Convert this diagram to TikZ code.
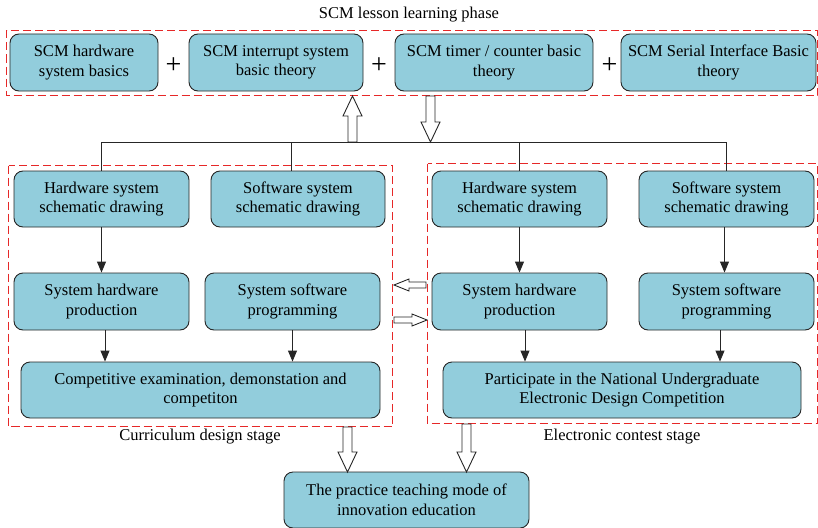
\documentclass[tikz,border=0pt]{standalone}
\usepackage{fontspec}
\setmainfont{Liberation Serif}
\usetikzlibrary{arrows.meta,calc}
\definecolor{boxfill}{HTML}{92CDDC}
\definecolor{dashred}{RGB}{230,40,40}
\newcommand\hollowdown[3]{\draw[hollow] ({#1-4.5},#2) -- ({#1-4.5},{#3-20}) -- ({#1-9.5},{#3-20}) -- (#1,#3) -- ({#1+9.5},{#3-20}) -- ({#1+4.5},{#3-20}) -- ({#1+4.5},#2) -- cycle;}
\newcommand\hollowup[3]{\draw[hollow] ({#1-4.5},#2) -- ({#1-4.5},{#3+20}) -- ({#1-9.5},{#3+20}) -- (#1,#3) -- ({#1+9.5},{#3+20}) -- ({#1+4.5},{#3+20}) -- ({#1+4.5},#2) -- cycle;}
\newcommand\hollowleft[3]{\draw[hollow] (#2,{#1-3}) -- ({#3+15},{#1-3}) -- ({#3+15},{#1-6}) -- (#3,#1) -- ({#3+15},{#1+6}) -- ({#3+15},{#1+3}) -- (#2,{#1+3}) -- cycle;}
\newcommand\hollowright[3]{\draw[hollow] (#2,{#1-3}) -- ({#3-15},{#1-3}) -- ({#3-15},{#1-6}) -- (#3,#1) -- ({#3-15},{#1+6}) -- ({#3-15},{#1+3}) -- (#2,{#1+3}) -- cycle;}
\begin{document}
\begin{tikzpicture}[x=1pt,y=-1pt,
 box/.style={draw=black!85,fill=boxfill,rounded corners=9pt,line width=0.9pt,align=center,font=\fontsize{16.5}{19.5}\selectfont,inner sep=0pt},
 grp/.style={draw=dashred,dash pattern=on 8pt off 4pt,line width=1.2pt},
 link/.style={draw=black!85,line width=0.9pt},
 arr/.style={link,-{Triangle[width=9pt,length=11pt]}},
 hollow/.style={draw=black!85,fill=white,line width=0.9pt},
 lbl/.style={font=\fontsize{16.5}{19.5}\selectfont,inner sep=0pt},
 plus/.style={font=\fontsize{28}{30}\selectfont,inner sep=0pt}
]
\useasboundingbox (0,0) rectangle (818,527);

% dashed groups
\draw[grp] (6.5,30.5) rectangle (817.5,95.5);
\draw[grp] (8.5,165.5) rectangle (392.5,426.5);
\draw[grp] (427.5,163.5) rectangle (817.5,423.5);

% top group
\node[lbl] (title) at (409,15) {SCM lesson learning phase};
\node[box,minimum width=148pt,minimum height=57pt] (t1) at (84,62.5) {SCM hardware\\system basics};
\node[box,minimum width=174pt,minimum height=57pt] (t2) at (276,62.5) {SCM interrupt system\\basic theory};
\node[box,minimum width=198pt,minimum height=57pt] (t3) at (494,62.5) {SCM timer / counter basic\\theory};
\node[box,minimum width=195pt,minimum height=57pt] (t4) at (718.5,62.5) {SCM Serial Interface Basic\\theory};
\node[plus] (p1) at (173.5,66) {+};
\node[plus] (p2) at (379,66) {+};
\node[plus] (p3) at (609.5,66) {+};

% hollow arrows between top and hub
\hollowup{352.5}{142}{96}
\hollowdown{430.5}{96}{142}

% left group
\node[box,minimum width=175pt,minimum height=56pt] (lhw) at (101.5,199) {Hardware system\\schematic drawing};
\node[box,minimum width=174pt,minimum height=56pt] (lsw) at (298,199) {Software system\\schematic drawing};
\node[box,minimum width=175pt,minimum height=57pt] (lhp) at (101.5,301.5) {System hardware\\production};
\node[box,minimum width=175pt,minimum height=57pt] (lsp) at (292.5,301.5) {System software\\programming};
\node[box,minimum width=359pt,minimum height=56pt] (lce) at (200.5,390) {Competitive examination, demonstation and\\competiton};
\node[lbl] (lcap) at (200,437) {Curriculum design stage};

% right group
\node[box,minimum width=175pt,minimum height=56pt] (rhw) at (519.5,199) {Hardware system\\schematic drawing};
\node[box,minimum width=175pt,minimum height=56pt] (rsw) at (726.5,199) {Software system\\schematic drawing};
\node[box,minimum width=175pt,minimum height=57pt] (rhp) at (519.5,301.5) {System hardware\\production};
\node[box,minimum width=175pt,minimum height=57pt] (rsp) at (726.5,301.5) {System software\\programming};
\node[box,minimum width=358pt,minimum height=56pt] (rpc) at (622,390) {Participate in the National Undergraduate\\Electronic Design Competition};
\node[lbl] (rcap) at (622,437) {Electronic contest stage};

% bottom
\node[box,minimum width=245pt,minimum height=56pt] (bot) at (406.5,500) {The practice teaching mode of\\innovation education};

% hub lines
\coordinate (hub) at (0,142);
\draw[link] (lhw.north) |- (hub -| rsw.north) -- (rsw.north);
\draw[link] ($(lsw.north)+(-7,0)$) coordinate (ls) -- (ls |- hub);
\draw[link] (rhw.north) -- (rhw.north |- hub);

% black arrows
\draw[arr] (lhw.south) -- (lhp.north);
\draw[arr] ($(lhp.south)+(3.5,0)$) coordinate (a1) -- (a1 |- lce.north);
\draw[arr] (lsp.south) -- (lsp.south |- lce.north);
\draw[arr] (rhw.south) -- (rhp.north);
\draw[arr] ($(rsw.south)+(-2,0)$) coordinate (a2) -- (a2 |- rsp.north);
\draw[arr] ($(rhp.south)+(5.5,0)$) coordinate (a3) -- (a3 |- rpc.north);
\draw[arr] ($(rsp.south)+(-6.5,0)$) coordinate (a4) -- (a4 |- rpc.north);

% hollow horizontal arrows
\hollowleft{285}{426}{394}
\hollowright{320}{394}{427}

% hollow arrows to bottom
\hollowdown{347.5}{427}{472}
\hollowdown{466.5}{424}{472}
\end{tikzpicture}
\end{document}
